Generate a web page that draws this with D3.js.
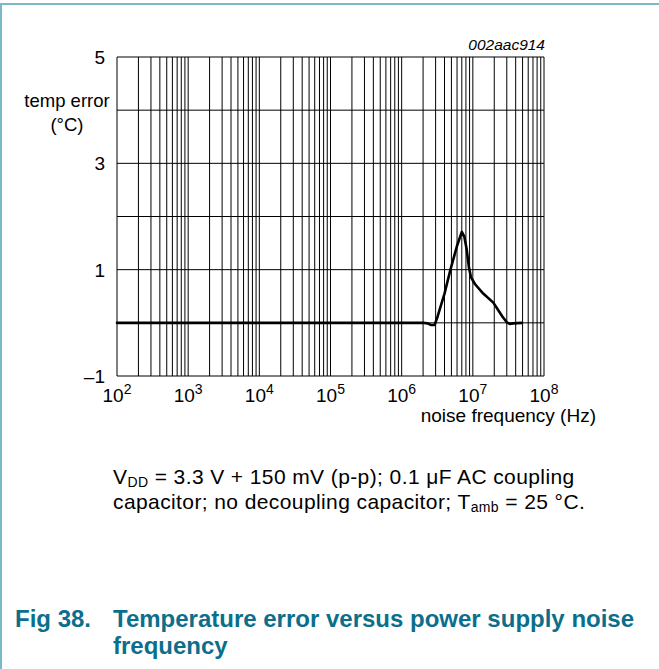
<!DOCTYPE html>
<html>
<head>
<meta charset="utf-8">
<script src="https://cdn.jsdelivr.net/npm/d3@7"></script>
<style>
  html, body { margin: 0; padding: 0; background: #fff; }
  svg { display: block; font-family: "Liberation Sans", Arial, sans-serif; }
</style>
</head>
<body>
<script>
// Temperature error vs. power supply noise frequency
const freqHz = [1e2, 1e5, 2.0e6, 2.3e6, 2.6e6, 2.9e6, 3.2e6, 4.0e6, 4.8e6, 6.0e6, 7.0e6, 7.6e6, 8.2e6, 8.8e6, 9.4e6, 1.07e7, 1.4e7, 1.94e7, 2.6e7, 3.0e7, 3.3e7, 3.7e7, 4.9e7];
const tempErr = [0, 0, 0, -0.01, -0.04, -0.04, 0.12, 0.55, 0.98, 1.45, 1.71, 1.62, 1.38, 1.05, 0.86, 0.73, 0.55, 0.38, 0.12, 0.01, -0.02, -0.01, 0];

const xDecades = [2, 3, 4, 5, 6, 7, 8];
const yTickLabels = [5, 3, 1, -1];
const yGridValues = [-1, 0, 1, 2, 3, 4, 5];

const W = 659, H = 669;
const plot = { left: 117, right: 544, top: 57, bottom: 376 };

const svg = d3.select("body").append("svg")
  .attr("width", W).attr("height", H);

// page frame (left and top rules)
svg.append("line").attr("x1", 1).attr("x2", 1).attr("y1", 3).attr("y2", H)
  .attr("stroke", "#7bb9c9").attr("stroke-width", 2);
svg.append("line").attr("x1", 0).attr("x2", W).attr("y1", 4).attr("y2", 4)
  .attr("stroke", "#7bb9c9").attr("stroke-width", 2);

const x = d3.scaleLog().domain([1e2, 1e8]).range([plot.left, plot.right]);
const y = d3.scaleLinear().domain([-1, 5]).range([plot.bottom, plot.top]);

// grid: every 1..9 within each decade
const minor = [];
for (let d = 2; d < 8; d++) for (let k = 1; k <= 9; k++) minor.push(k * Math.pow(10, d));
minor.push(1e8);

const grid = svg.append("g").attr("stroke", "#000").attr("stroke-width", 1);
grid.selectAll("line.v").data(minor).join("line").attr("class", "v")
  .attr("x1", d => x(d)).attr("x2", d => x(d))
  .attr("y1", plot.top).attr("y2", plot.bottom);
grid.selectAll("line.h").data(yGridValues).join("line").attr("class", "h")
  .attr("x1", plot.left).attr("x2", plot.right)
  .attr("y1", d => y(d)).attr("y2", d => y(d));

// y tick labels
svg.append("g").selectAll("text").data(yTickLabels).join("text")
  .attr("x", 105).attr("y", d => y(d) + 7)
  .attr("text-anchor", "end").attr("font-size", 19).attr("fill", "#000")
  .text(d => d < 0 ? "\u2013" + Math.abs(d) : d);

// y axis title
const yt = svg.append("text").attr("text-anchor", "middle").attr("font-size", 18.5).attr("fill", "#000");
yt.append("tspan").attr("x", 67).attr("y", 107).text("temp error");
yt.append("tspan").attr("x", 67).attr("y", 131).text("(\u00b0C)");

// x tick labels 10^n
const xl = svg.append("g").selectAll("text").data(xDecades).join("text")
  .attr("x", d => x(Math.pow(10, d))).attr("y", 402)
  .attr("text-anchor", "middle").attr("font-size", 19).attr("fill", "#000");
xl.append("tspan").text("10");
xl.append("tspan").attr("dy", -8).attr("font-size", 14).text(d => d);

svg.append("text").attr("x", 596).attr("y", 422).attr("text-anchor", "end")
  .attr("font-size", 19).attr("fill", "#000").text("noise frequency (Hz)");

svg.append("text").attr("x", 545).attr("y", 50).attr("text-anchor", "end")
  .attr("font-size", 15.5).attr("font-style", "italic").attr("fill", "#000").text("002aac914");

// curve
const pts = freqHz.map((f, i) => [f, tempErr[i]]);
const line = d3.line().x(d => x(d[0])).y(d => y(d[1]));
svg.append("path").datum(pts).attr("d", line)
  .attr("fill", "none").attr("stroke", "#000").attr("stroke-width", 2.6)
  .attr("stroke-linejoin", "round").attr("stroke-linecap", "round");

// conditions note
const c1 = svg.append("text").attr("x", 113).attr("y", 484).attr("font-size", 21)
  .attr("letter-spacing", 0.4).attr("fill", "#000");
c1.append("tspan").text("V");
c1.append("tspan").attr("font-size", 14).attr("dy", 3).text("DD");
c1.append("tspan").attr("dy", -3).text(" = 3.3 V + 150 mV (p-p); 0.1 \u03bcF AC coupling");
const c2 = svg.append("text").attr("x", 113).attr("y", 509).attr("font-size", 21)
  .attr("letter-spacing", 0.4).attr("fill", "#000");
c2.append("tspan").text("capacitor; no decoupling capacitor; T");
c2.append("tspan").attr("font-size", 14).attr("dy", 3).text("amb");
c2.append("tspan").attr("dy", -3).text(" = 25 \u00b0C.");

// figure title
const teal = "#0b6f8c";
svg.append("text").attr("x", 15).attr("y", 627).attr("font-size", 24).attr("font-weight", "bold")
  .attr("fill", teal).text("Fig 38.");
const t = svg.append("text").attr("font-size", 24).attr("font-weight", "bold").attr("fill", teal);
t.append("tspan").attr("x", 113).attr("y", 627).text("Temperature error versus power supply noise");
t.append("tspan").attr("x", 113).attr("y", 654).text("frequency");
</script>
</body>
</html>
